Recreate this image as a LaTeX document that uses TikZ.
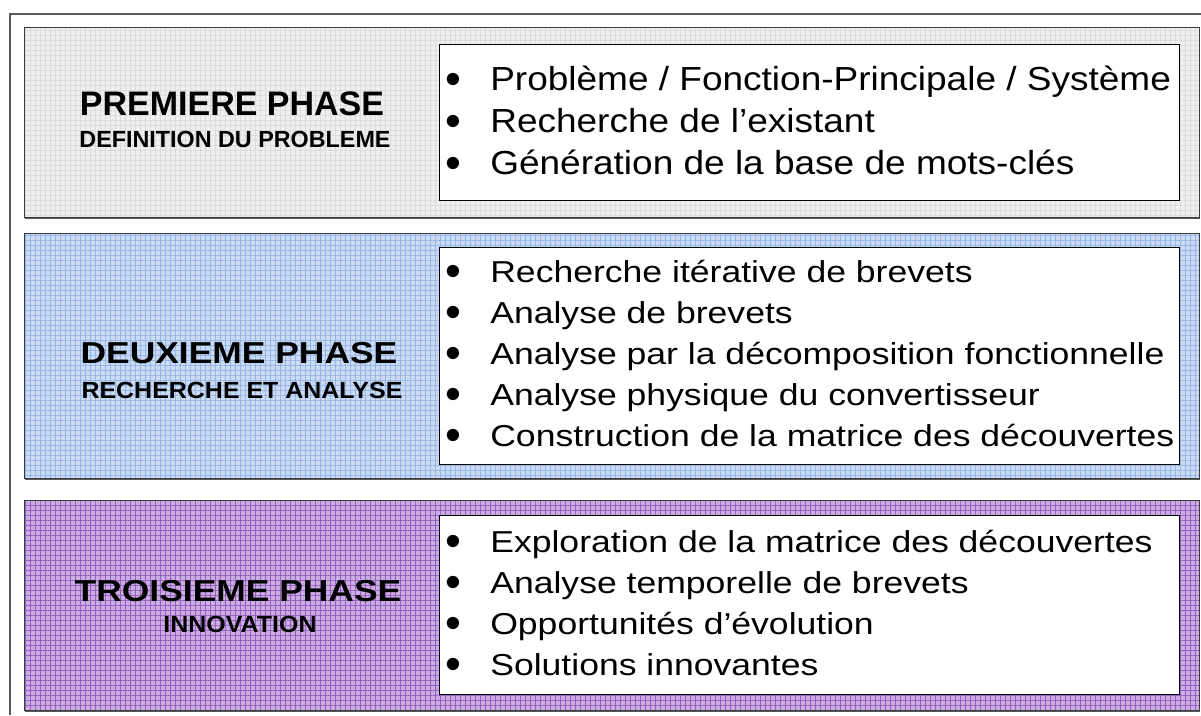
\documentclass[tikz,border=0pt]{standalone}
\usepackage{graphicx}
\usepackage{fontspec}
\setmainfont{Liberation Sans}
\usetikzlibrary{patterns.meta}

\definecolor{grayfill}{HTML}{EFEFEF}
\definecolor{graygrid}{HTML}{DCDCDC}
\definecolor{bluefill}{HTML}{CADBF3}
\definecolor{bluegrid}{HTML}{96B7E6}
\definecolor{purplefill}{HTML}{CCADE2}
\definecolor{purplegrid}{HTML}{9360C2}
\definecolor{framegray}{HTML}{5A5A5A}
\definecolor{bandline}{HTML}{3C3C3C}

% bullet, then the line stretched by #1
\newcommand{\bulletline}[2]{\makebox[33.4pt][l]{\raisebox{-3pt}{\fontsize{34}{34}\selectfont •}}\scalebox{#1}[1]{#2}}

\begin{document}
\begin{tikzpicture}[x=0.75pt,y=-0.75pt,
    band/.style 2 args={fill=#1, anchor=north west, inner sep=0pt,
      minimum width=881.25pt,
      preaction={fill=bandline!85, transform canvas={xshift=.8pt,yshift=-1pt}},
      postaction={pattern={Lines[angle=0,distance=3.75pt,line width=.5pt]},pattern color=#2},
      postaction={pattern={Lines[angle=90,distance=3.75pt,line width=.5pt]},pattern color=#2},
      postaction={draw=bandline,line width=.9pt}},
    box/.style={draw=black, fill=white, line width=.9pt, anchor=north west,
      inner sep=0pt, minimum width=555pt},
    title/.style={font=\bfseries\fontsize{#1}{30}\selectfont, inner sep=0pt, anchor=base},
    subtitle/.style={font=\bfseries\fontsize{17.5}{22}\selectfont, inner sep=0pt, anchor=base},
    item/.style={font=\fontsize{#1}{29}\selectfont, anchor=base west, inner sep=0pt}]
  \useasboundingbox (0,0) rectangle (1201,715);
  \draw[framegray, line width=1.1pt] (1201,14) -- (10,14) -- (10,715);

  % phase 1
  \node[band={grayfill}{graygrid}, minimum height=142.5pt] (band1) at (24,27) {};
  \node[box, minimum height=117pt] (box1) at (439,44) {};
  \node[title=25.5] (t1) at (232,115) {PREMIERE PHASE};
  \node[subtitle] (s1) at (235,147) {DEFINITION DU PROBLEME};
  \foreach \txt [count=\i] in {Problème / Fonction-Principale / Système,
      Recherche de l’existant, Génération de la base de mots-clés}
    \node[item=25] (a\i) at (445.5,90+42*\i-42) {\bulletline{1.11}{\txt}};

  % phase 2
  \node[band={bluefill}{bluegrid}, minimum height=183.75pt] (band2) at (24,233) {};
  \node[box, minimum height=162.75pt] (box2) at (439,247) {};
  \node[title=22.7] (t2) at (239,363) {\scalebox{1.17}[1]{DEUXIEME PHASE}};
  \node[subtitle] (s2) at (242,398) {\scalebox{1.07}[1]{RECHERCHE ET ANALYSE}};
  \foreach \txt [count=\i] in {Recherche itérative de brevets, Analyse de brevets,
      Analyse par la décomposition fonctionnelle, Analyse physique du convertisseur,
      Construction de la matrice des découvertes}
    \node[item=22.7] (b\i) at (445.5,282+41*\i-41) {\bulletline{1.175}{\txt}};

  % phase 3
  \node[band={purplefill}{purplegrid}, minimum height=157.5pt] (band3) at (24,500) {};
  \node[box, minimum height=134.25pt] (box3) at (439,515) {};
  \node[title=22.7] (t3) at (238,601) {\scalebox{1.17}[1]{TROISIEME PHASE}};
  \node[subtitle] (s3) at (240,632) {\scalebox{1.07}[1]{INNOVATION}};
  \foreach \txt [count=\i] in {Exploration de la matrice des découvertes,
      Analyse temporelle de brevets, Opportunités d’évolution, Solutions innovantes}
    \node[item=22.7] (c\i) at (445.5,552+41*\i-41) {\bulletline{1.175}{\txt}};
\end{tikzpicture}
\end{document}
